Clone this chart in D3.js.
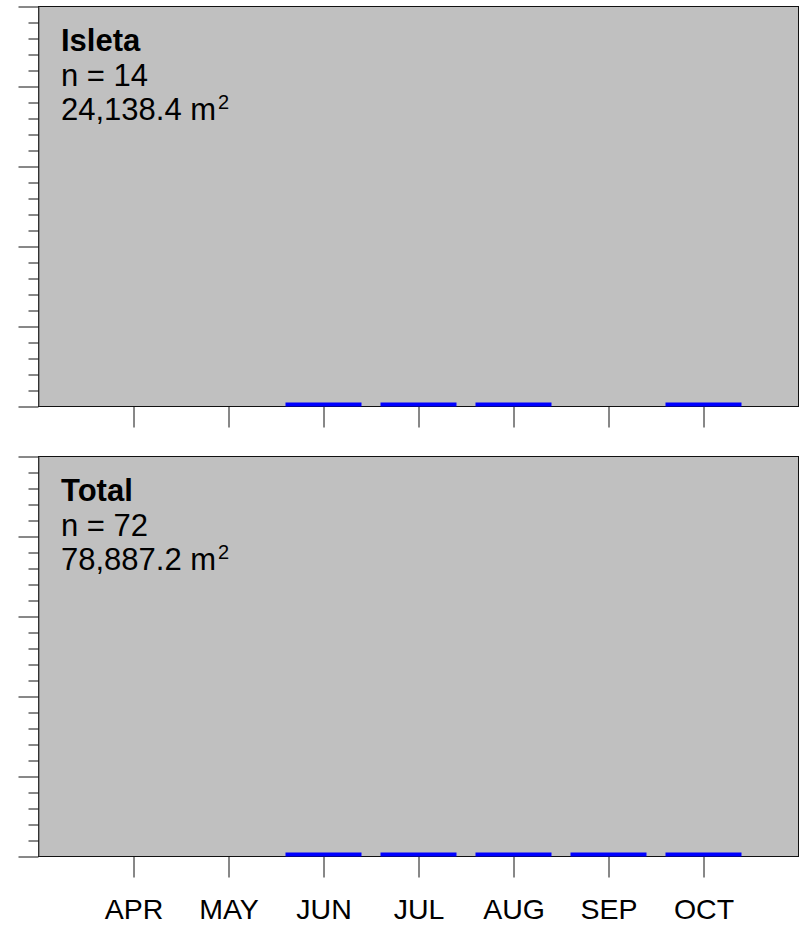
<!DOCTYPE html>
<html>
<head>
<meta charset="utf-8">
<script src="https://cdn.jsdelivr.net/npm/d3@7"></script>
<style>
  body { margin: 0; background: #fff; }
  svg { display: block; font-family: Arial, "Liberation Sans", sans-serif; }
</style>
</head>
<body>
<div id="chart"></div>
<script>
// months along the x axis
const months = ["APR", "MAY", "JUN", "JUL", "AUG", "SEP", "OCT"];

// panel labels
const panelNames = ["Isleta", "Total"];
const panelCounts = [14, 72];
const panelAreas = ["24,138.4", "78,887.2"];

// values per month (null = no bar)
const isletaValues = [null, null, 0.005, 0.005, 0.005, null, 0.005];
const totalValues = [null, null, 0.005, 0.005, 0.005, 0.005, 0.005];
const panelValues = [isletaValues, totalValues];

const yMajorTicks = [0, 0.2, 0.4, 0.6, 0.8, 1.0];
const yMinorTicks = d3.range(0, 25).map(i => i * 0.04).filter(v => !yMajorTicks.some(m => Math.abs(m - v) < 1e-9));

const width = 802, height = 925;
const left = 38.5, right = 798.5;
const panelTop = [6.5, 456.5];
const panelH = 400;

const svg = d3.select("#chart").append("svg")
    .attr("width", width)
    .attr("height", height);

const x = d3.scaleLinear()
    .domain([0, months.length + 1])
    .range([left, right]);

panelNames.forEach((name, p) => {
  const top = panelTop[p];
  const y = d3.scaleLinear().domain([0, 1]).range([top + panelH, top]);
  const g = svg.append("g");

  g.append("rect")
      .attr("x", left)
      .attr("y", top)
      .attr("width", right - left)
      .attr("height", panelH)
      .attr("fill", "#c0c0c0")
      .attr("stroke", "#111")
      .attr("stroke-width", 1);

  // left axis line is a little heavier
  g.append("line")
      .attr("x1", left + 0.5).attr("x2", left + 0.5)
      .attr("y1", top).attr("y2", top + panelH)
      .attr("stroke", "#555");

  // minor y ticks
  g.append("g")
      .attr("transform", `translate(${left},0)`)
      .call(d3.axisLeft(y).tickValues(yMinorTicks).tickSize(10).tickFormat(""))
      .call(a => a.select(".domain").remove())
      .selectAll("line").attr("stroke", "#111");

  // major y ticks
  g.append("g")
      .attr("transform", `translate(${left},0)`)
      .call(d3.axisLeft(y).tickValues(yMajorTicks).tickSize(20).tickFormat(""))
      .call(a => a.select(".domain").remove())
      .selectAll("line").attr("stroke", "#111");

  // x axis
  const xAxis = d3.axisBottom(x)
      .tickValues(months.map((m, i) => i + 1))
      .tickSize(21)
      .tickPadding(21)
      .tickFormat(p === panelNames.length - 1 ? (d => months[d - 1]) : "");
  g.append("g")
      .attr("transform", `translate(0,${top + panelH})`)
      .call(xAxis)
      .call(a => a.select(".domain").remove())
      .call(a => a.selectAll("line").attr("stroke", "#111"))
      .call(a => a.selectAll("text")
          .attr("fill", "#000")
          .style("font-size", "28.5px")
          .style("font-family", "Arial, 'Liberation Sans', sans-serif"));

  // bars
  g.selectAll("line.bar")
    .data(panelValues[p].map((v, i) => ({v, i})).filter(d => d.v != null))
    .join("line")
      .attr("class", "bar")
      .attr("x1", d => x(d.i + 1 - 0.4))
      .attr("x2", d => x(d.i + 1 + 0.4))
      .attr("y1", d => y(d.v))
      .attr("y2", d => y(d.v))
      .attr("stroke", "#0000ff")
      .attr("stroke-width", 4);

  // labels
  const tx = 61;
  g.append("text")
      .attr("x", tx).attr("y", top + 44)
      .attr("font-size", 31).attr("font-weight", "bold")
      .text(name);
  g.append("text")
      .attr("x", tx).attr("y", top + 79)
      .attr("font-size", 31)
      .text(`n = ${panelCounts[p]}`);
  const t = g.append("text")
      .attr("x", tx).attr("y", top + 113)
      .attr("font-size", 31)
      .text(`${panelAreas[p]} m`);
  t.append("tspan")
      .attr("font-size", 20)
      .attr("dx", 2)
      .attr("dy", -11)
      .text("2");
});
</script>
</body>
</html>
